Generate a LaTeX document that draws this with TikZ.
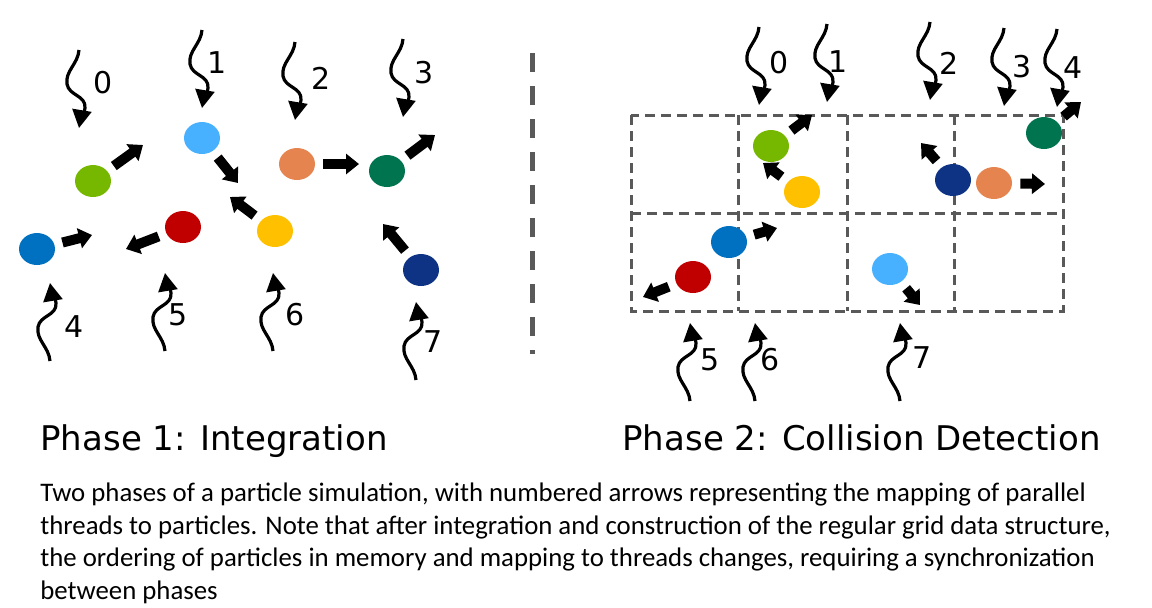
\documentclass[tikz,border=0pt]{standalone}
\usepackage{fontspec}
\setmainfont{Carlito}
\newfontfamily\headfont{DejaVu Sans}
\usetikzlibrary{arrows.meta,shapes.geometric}
\definecolor{PGreen}{HTML}{76B800}
\definecolor{PSky}{HTML}{47B0FF}
\definecolor{POrange}{HTML}{E5844F}
\definecolor{PTeal}{HTML}{00744E}
\definecolor{PRed}{HTML}{C00000}
\definecolor{PYellow}{HTML}{FFC000}
\definecolor{PBlue}{HTML}{0070C0}
\definecolor{PNavy}{HTML}{0F3384}
\definecolor{GridGray}{HTML}{595959}

\begin{document}
\begin{tikzpicture}[
  x=0.5pt,y=-0.5pt,
  particle/.style={ellipse,minimum width=18pt,minimum height=16pt,inner sep=0pt},
  move/.style={-{Triangle[length=6.5pt,width=10pt]},line width=5pt,shorten <=4pt},
  thread/.style={-{Triangle[length=9pt,width=9.5pt]},line width=1.6pt},
  tlbl/.style={font=\headfont\fontsize{15}{15}\selectfont,inner sep=0pt},
  phase/.style={font=\headfont\fontsize{17}{18}\selectfont,anchor=base west,inner sep=0pt},
  cellgrid/.style={draw=GridGray,line width=1.5pt,dash pattern=on 5pt off 3pt},
  dnthread/.pic={\draw[thread] (0,-78) .. controls (-1,-64) and (-14,-57) .. (-12,-44) .. controls (-10,-32) and (7,-33) .. (6,-20) .. controls (5,-12) and (1,-6) .. (0,0);},
  upthread/.pic={\draw[thread] (0,78) .. controls (-1,64) and (-14,57) .. (-12,44) .. controls (-10,32) and (7,33) .. (6,20) .. controls (5,12) and (1,6) .. (0,0);}
]
\useasboundingbox (0,0) rectangle (1152,607);

% Phase 1: particles before integration
\node[particle,fill=PGreen] (grn1) at (93,181) {};
\node[particle,fill=PSky] (sky1) at (202,138) {};
\node[particle,fill=POrange] (org1) at (297,164) {};
\node[particle,fill=PTeal] (teal1) at (387,171) {};
\node[particle,fill=PRed] (red1) at (183,227) {};
\node[particle,fill=PYellow] (ylw1) at (275,231) {};
\node[particle,fill=PBlue] (blu1) at (37,249) {};
\node[particle,fill=PNavy] (nvy1) at (421,270) {};

\coordinate (grn1v) at (143,145);
\coordinate (sky1v) at (238,183);
\coordinate (org1v) at (359,164);
\coordinate (teal1v) at (435,135);
\coordinate (ylw1v) at (230,197);
\coordinate (red1v) at (126,249);
\coordinate (blu1v) at (92,235);
\coordinate (nvy1v) at (383,224);
\draw[move] (grn1) -- (grn1v);
\draw[move] (sky1) -- (sky1v);
\draw[move] (org1) -- (org1v);
\draw[move] (teal1) -- (teal1v);
\draw[move] (ylw1) -- (ylw1v);
\draw[move] (red1) -- (red1v);
\draw[move] (blu1) -- (blu1v);
\draw[move] (nvy1) -- (nvy1v);

% threads, phase 1
\pic at (79,128) {dnthread};
\pic at (202,108) {dnthread};
\pic at (295,120) {dnthread};
\pic at (403,117) {dnthread};
\pic at (50,283) {upthread};
\pic at (165,273) {upthread};
\pic at (273,273) {upthread};
\pic at (416,302) {upthread};
\node[tlbl] (a0) at (103,83) {0};
\node[tlbl] (a1) at (217,63) {1};
\node[tlbl] (a2) at (321,78) {2};
\node[tlbl] (a3) at (424,73) {3};
\node[tlbl] (a4) at (74,327) {4};
\node[tlbl] (a5) at (178,315) {5};
\node[tlbl] (a6) at (295,315) {6};
\node[tlbl] (a7) at (433,342) {7};

% divider
\draw[draw=GridGray,line width=2.5pt,dash pattern=on 9.5pt off 7pt] (532,53) -- (532,354);

% Phase 2: regular grid
\draw[cellgrid] (631,115) rectangle (1063,311);
\draw[cellgrid] (631,213) -- (1063,213);
\draw[cellgrid] (738,115) -- (738,311);
\draw[cellgrid] (847,115) -- (847,311);
\draw[cellgrid] (954,115) -- (954,311);

\node[particle,fill=PGreen] (grn2) at (771,146) {};
\node[particle,fill=PYellow] (ylw2) at (802,192) {};
\node[particle,fill=PNavy] (nvy2) at (953,180) {};
\node[particle,fill=POrange] (org2) at (994,183) {};
\node[particle,fill=PTeal] (teal2) at (1044,133) {};
\node[particle,fill=PBlue] (blu2) at (729,242) {};
\node[particle,fill=PRed] (red2) at (693,277) {};
\node[particle,fill=PSky] (sky2) at (890,269) {};

\coordinate (grn2v) at (812,115);
\coordinate (ylw2v) at (763,163);
\coordinate (nvy2v) at (921,143);
\coordinate (org2v) at (1045,184);
\coordinate (teal2v) at (1081,102);
\coordinate (blu2v) at (777,228);
\coordinate (red2v) at (643,297);
\coordinate (sky2v) at (920,305);
\draw[move] (grn2) -- (grn2v);
\draw[move] (ylw2) -- (ylw2v);
\draw[move] (nvy2) -- (nvy2v);
\draw[move] (org2) -- (org2v);
\draw[move] (teal2) -- (teal2v);
\draw[move] (blu2) -- (blu2v);
\draw[move] (red2) -- (red2v);
\draw[move] (sky2) -- (sky2v);

% threads, phase 2
\pic at (759,105) {dnthread};
\pic at (827,102) {dnthread};
\pic at (930,100) {dnthread};
\pic at (1004,106) {dnthread};
\pic at (1057,107) {dnthread};
\pic at (690,323) {upthread};
\pic at (755,323) {upthread};
\pic at (900,323) {upthread};
\node[tlbl] (b0) at (779,63) {0};
\node[tlbl] (b1) at (838,62) {1};
\node[tlbl] (b2) at (949,63) {2};
\node[tlbl] (b3) at (1022,67) {3};
\node[tlbl] (b4) at (1073,68) {4};
\node[tlbl] (b5) at (710,360) {5};
\node[tlbl] (b6) at (770,360) {6};
\node[tlbl] (b7) at (922,358) {7};

% titles and caption
\node[phase] (ph1) at (40,450) {Phase 1: Integration};
\node[phase] (ph2) at (622,450) {Phase 2: Collision Detection};
\node[anchor=base west,inner sep=0pt,align=left,font=\fontsize{13.4}{16.25}\selectfont] (cap) at (40,599)
  {Two phases of a particle simulation, with numbered arrows representing the mapping of parallel\\
   threads to particles. Note that after integration and construction of the regular grid data structure,\\
   the ordering of particles in memory and mapping to threads changes, requiring a synchronization\\
   between phases};
\end{tikzpicture}
\end{document}
